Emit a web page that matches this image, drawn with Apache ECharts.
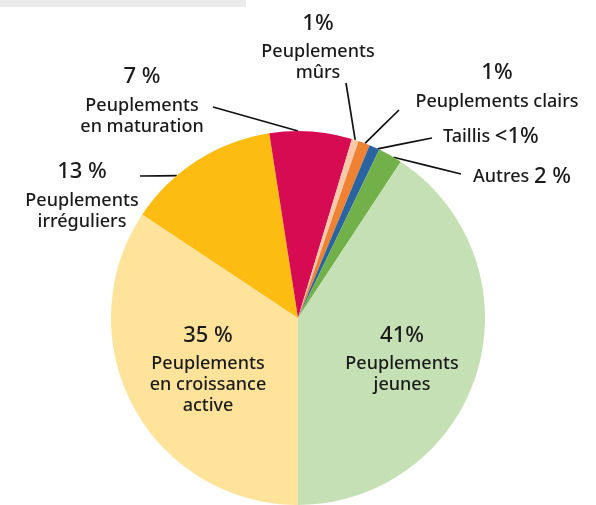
<!DOCTYPE html>
<html>
<head>
<meta charset="utf-8">
<script src="https://cdn.jsdelivr.net/npm/echarts@6/dist/echarts.min.js"></script>
<style>
  html, body { margin: 0; padding: 0; background: #fff; }
  #chart { width: 596px; height: 505px; }
</style>
</head>
<body>
<div id="chart"></div>
<script>
// slices, clockwise from the bottom of the pie
const CATEGORIES = [
  "Peuplements en croissance active",
  "Peuplements irréguliers",
  "Peuplements en maturation",
  "Peuplements mûrs",
  "Peuplements clairs",
  "Taillis",
  "Autres",
  "Peuplements jeunes",
];
const VALUES = [34.3, 13.2, 7.1, 0.6, 1.0, 0.9, 2.1, 40.7];
const PCT_LABELS = ["35 %", "13 %", "7 %", "1%", "1%", "<1%", "2 %", "41%"];
const NAME_LINES = [
  ["Peuplements", "en croissance", "active"],
  ["Peuplements", "irréguliers"],
  ["Peuplements", "en maturation"],
  ["Peuplements", "mûrs"],
  ["Peuplements clairs"],
  ["Taillis"],
  ["Autres"],
  ["Peuplements", "jeunes"],
];
const COLORS = [
  "#FFE39B",
  "#FCBC12",
  "#D60B52",
  "#F9C9A9",
  "#EE8232",
  "#2A64A0",
  "#72B04A",
  "#C5E0B5",
];

const CX = 298;
const CY = 318;
const R = 187;
const FONT = "Noto Sans";

// label placement: x/top y of the text block, leader start, anchor angle (deg from top, clockwise)
const LABEL_LAYOUT = [
  { x: 208, y: 317.5, align: "center" },
  { x: 82, y: 154, align: "center", from: [140, 176], angle: 319.6 },
  { x: 142, y: 59, align: "center", from: [213, 107], angle: 0 },
  { x: 318, y: 5.5, align: "center", from: [346, 83], angle: 17.8 },
  { x: 497, y: 55, align: "center", from: [399, 110], angle: 21 },
  { x: 443, y: 119, align: "left", from: [432, 138], angle: 25.2 },
  { x: 473, y: 159, align: "left", from: [461, 174], angle: 30.7 },
  { x: 402, y: 317.5, align: "center" },
];

function anchorPoint(angle) {
  const rad = (angle * Math.PI) / 180;
  return [CX + R * Math.sin(rad), CY - R * Math.cos(rad)];
}

function buildLabel(index) {
  const pct = PCT_LABELS[index];
  const lines = NAME_LINES[index];
  if (LABEL_LAYOUT[index].align === "left") {
    return `{n|${lines[0]} }{p|${pct}}`;
  }
  return [`{p|${pct}}`].concat(lines.map((l) => `{n|${l}}`)).join("\n");
}

const chart = echarts.init(document.getElementById("chart"), null, { renderer: "canvas" });

const data = CATEGORIES.map((name, i) => ({
  name,
  value: VALUES[i],
  itemStyle: { color: COLORS[i] },
  label: { align: LABEL_LAYOUT[i].align },
  labelLine: { show: !!LABEL_LAYOUT[i].from },
}));

chart.setOption({
  animation: false,
  graphic: [
    {
      type: "rect",
      left: 0,
      top: 0,
      shape: { width: 246, height: 7 },
      style: { fill: "#ebebeb" },
    },
  ],
  series: [
    {
      type: "pie",
      center: [CX, CY],
      radius: R,
      startAngle: -90,
      clockwise: true,
      avoidLabelOverlap: false,
      itemStyle: { borderWidth: 0 },
      label: {
        show: true,
        position: "outside",
        formatter: (p) => buildLabel(p.dataIndex),
        color: "#1a1a1a",
        fontFamily: FONT,
        rich: {
          p: { fontSize: 22, fontWeight: 500, lineHeight: 36, color: "#1a1a1a", fontFamily: FONT },
          n: { fontSize: 18, fontWeight: 500, lineHeight: 21, color: "#1a1a1a", fontFamily: FONT },
        },
      },
      labelLine: {
        show: true,
        lineStyle: { color: "#111", width: 1.7 },
      },
      labelLayout: (params) => {
        const cfg = LABEL_LAYOUT[params.dataIndex];
        const out = { x: cfg.x, y: cfg.y, align: cfg.align, verticalAlign: "top" };
        if (cfg.from) {
          const end = anchorPoint(cfg.angle);
          const mid = [(cfg.from[0] + end[0]) / 2, (cfg.from[1] + end[1]) / 2];
          out.labelLinePoints = [end, mid, cfg.from];
        }
        return out;
      },
      data,
    },
  ],
});
</script>
</body>
</html>
